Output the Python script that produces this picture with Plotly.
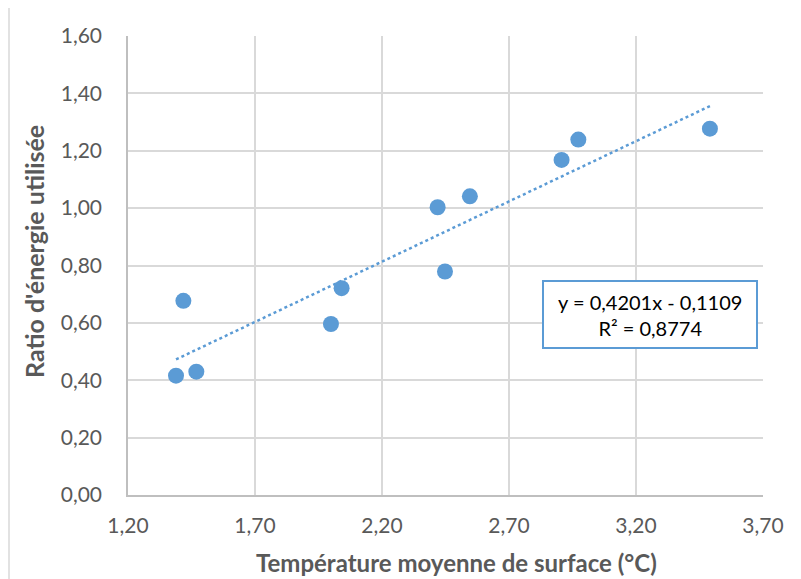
import plotly.graph_objects as go

# Data
temperature = [1.389, 1.418, 1.469, 1.999, 2.041, 2.419, 2.448, 2.546, 2.907, 2.973, 3.491]
ratio = [0.416, 0.677, 0.430, 0.596, 0.721, 1.003, 0.779, 1.041, 1.168, 1.239, 1.277]
slope = 0.4201
intercept = -0.1109
r2_text = "0,8774"
x_ticks = [1.20, 1.70, 2.20, 2.70, 3.20, 3.70]
y_ticks = [0.0, 0.2, 0.4, 0.6, 0.8, 1.0, 1.2, 1.4, 1.6]
x_title = "Température moyenne de surface (°C)"
y_title = "Ratio d'énergie utilisée"

def fr(v):
    return f"{v:.2f}".replace(".", ",")

# page offset (default body margin of the html page)
OX, OY = 8, 8
SW, SH = 801, 579
W, H = SW - OX, SH - OY
# plot area in screen pixels: x 128..763, y 36..495
L, R, T, B = 128 - OX, SW - 763, 36 - OY, SH - 495
pw, ph = W - L - R, H - T - B

def px(xs):
    return (xs - OX - L) / pw

def py(ys):
    return (H - B - (ys - OY)) / ph

xmin, xmax = min(temperature), max(temperature)
trend_x = [xmin, xmax]
trend_y = [slope * xmin + intercept, slope * xmax + intercept]

fig = go.Figure()
fig.add_trace(go.Scatter(
    x=trend_x, y=trend_y, mode="lines",
    line=dict(color="#5B9BD5", width=2.5, dash="dot"),
    hoverinfo="skip", showlegend=False))
fig.add_trace(go.Scatter(
    x=temperature, y=ratio, mode="markers",
    marker=dict(color="#5B9BD5", size=16, line=dict(width=0)),
    showlegend=False))

font = "Lato"
eq_text = (f"y = {str(slope).replace('.', ',')}x - {str(abs(intercept)).replace('.', ',')}"
           f"<br>R² = {r2_text}")

fig.update_layout(
    width=W, height=H,
    margin=dict(l=L, r=R, t=T, b=B, autoexpand=False),
    paper_bgcolor="white", plot_bgcolor="white",
    font=dict(family=font, color="#595959", size=21),
    xaxis=dict(
        range=[1.20, 3.70], tickvals=x_ticks, ticktext=[fr(v) for v in x_ticks],
        showgrid=True, gridcolor="#D9D9D9", gridwidth=1.5,
        showline=True, linecolor="#BFBFBF", linewidth=1.5, zeroline=False,
        ticks="", ticklabelstandoff=11, automargin=False,
    ),
    yaxis=dict(
        range=[0, 1.6], tickvals=y_ticks, ticktext=[fr(v) for v in y_ticks],
        showgrid=True, gridcolor="#D9D9D9", gridwidth=1.5,
        showline=True, linecolor="#BFBFBF", linewidth=1.5, zeroline=False,
        ticks="", ticklabelstandoff=20, automargin=False,
    ),
    shapes=[
        dict(type="line", xref="paper", yref="paper",
             x0=px(9), x1=px(SW + 5), y0=py(6), y1=py(6),
             line=dict(color="#D9D9D9", width=1.5)),
        dict(type="line", xref="paper", yref="paper",
             x0=px(9), x1=px(9), y0=py(6), y1=py(SH + 5),
             line=dict(color="#D9D9D9", width=1.5)),
        dict(type="rect", xref="paper", yref="paper",
             x0=px(543), x1=px(757), y0=py(348), y1=py(281),
             line=dict(color="#5B9BD5", width=2), fillcolor="white", layer="above"),
    ],
    annotations=[
        dict(xref="paper", yref="paper", x=px(650), y=py(315),
             text=eq_text, showarrow=False, align="center",
             xanchor="center", yanchor="middle",
             font=dict(size=20, color="#000000", family=font)),
        dict(xref="paper", yref="paper", x=px(456), y=py(562),
             text=f"<b>{x_title}</b>", showarrow=False,
             xanchor="center", yanchor="middle",
             font=dict(size=24, color="#595959", family=font)),
        dict(xref="paper", yref="paper", x=px(34), y=py(252),
             text=f"<b>{y_title}</b>", showarrow=False, textangle=-90,
             xanchor="center", yanchor="middle",
             font=dict(size=25, color="#595959", family=font)),
    ],
)

fig.write_html("out.html")
